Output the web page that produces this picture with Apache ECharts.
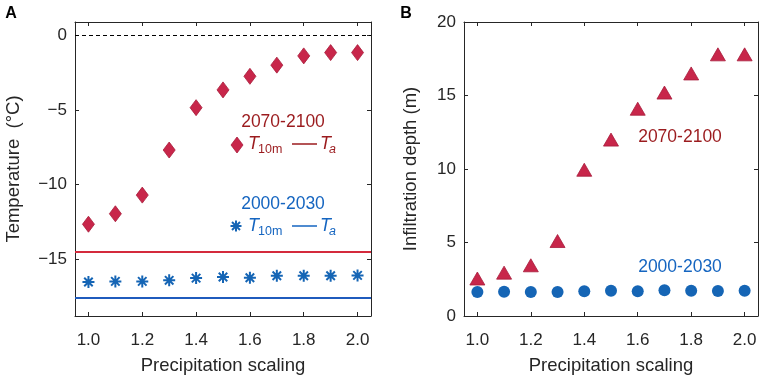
<!DOCTYPE html>
<html>
<head>
<meta charset="utf-8">
<script src="https://cdn.jsdelivr.net/npm/echarts@6/dist/echarts.min.js"></script>
<style>
  html, body { margin: 0; padding: 0; background: #fff; }
  #chart { width: 765px; height: 380px; }
</style>
</head>
<body>
<div id="chart"></div>
<script>
// precipitation scaling factors (x axis, both panels)
const scaling = [1.0, 1.1, 1.2, 1.3, 1.4, 1.5, 1.6, 1.7, 1.8, 1.9, 2.0];

// panel A: 10 m ground temperature (°C)
const t10m2070 = [-12.65, -11.95, -10.7, -7.68, -4.84, -3.65, -2.74, -1.99, -1.37, -1.15, -1.15];
const t10m2000 = [-16.52, -16.48, -16.48, -16.41, -16.26, -16.19, -16.24, -16.1, -16.1, -16.1, -16.08];
// panel A: mean air temperature Ta (°C)
const ta2070 = -14.5;
const ta2000 = -17.6;

// panel B: infiltration depth (m)
const depth2070 = [2.55, 2.95, 3.45, 5.1, 9.95, 12.0, 14.1, 15.2, 16.5, 17.8, 17.8];
const depth2000 = [1.64, 1.65, 1.64, 1.64, 1.68, 1.72, 1.68, 1.75, 1.72, 1.7, 1.72];

const RED = '#c8264a';
const RED_EDGE = '#a81c3b';
const RED_LINE = '#d42a3c';
const RED_TEXT = '#9b1b1e';
const BLUE = '#1565b5';
const BLUE_LINE = '#1f5bbd';
const BLUE_TEXT = '#1565c0';
const AXIS = '#262626';
const FONT = 'Liberation Sans, Arial, sans-serif';

const asterisk = 'path://M0,-10L0,10M-10,0L10,0M-7.07,-7.07L7.07,7.07M-7.07,7.07L7.07,-7.07';

function pts(ys) {
  return scaling.map((x, i) => [x, ys[i]]);
}

function fmtMinus(v) {
  return v < 0 ? '\u2212' + Math.abs(v) : String(v);
}

function xAxis(grid, pos) {
  const bottom = pos === 'bottom';
  return {
    type: 'value',
    gridIndex: grid,
    position: pos,
    min: 0.95,
    max: 2.05,
    splitNumber: 5,
    name: bottom ? 'Precipitation scaling' : '',
    nameLocation: 'middle',
    nameGap: 40,
    nameTextStyle: { color: AXIS, fontSize: 18.5, fontFamily: FONT },
    axisLine: { show: true, onZero: false, lineStyle: { color: AXIS, width: 1 } },
    axisTick: { show: true, inside: true, length: 4, lineStyle: { color: AXIS } },
    axisLabel: {
      show: bottom,
      margin: 16,
      color: AXIS,
      fontSize: 17,
      fontFamily: FONT,
      formatter: v => {
        const k = Math.round(v * 10);
        return (Math.abs(v * 10 - k) < 1e-6 && k % 2 === 0) ? (k / 10).toFixed(1) : '';
      }
    },
    splitLine: { show: false }
  };
}

function yAxis(grid, pos, cfg) {
  const left = pos === 'left';
  return Object.assign({
    type: 'value',
    gridIndex: grid,
    position: pos,
    nameLocation: 'middle',
    nameTextStyle: { color: AXIS, fontSize: 18.5, fontFamily: FONT },
    axisLine: { show: true, onZero: false, lineStyle: { color: AXIS, width: 1 } },
    axisTick: { show: true, inside: true, length: 4, lineStyle: { color: AXIS } },
    axisLabel: {
      show: left,
      margin: 8,
      color: AXIS,
      fontSize: 17,
      fontFamily: FONT,
      formatter: v => (Math.abs(v % 5) < 1e-6 ? fmtMinus(v) : '')
    },
    splitLine: { show: false }
  }, cfg, left ? {} : { name: '' });
}

function txt(x, y, text, color, size, extra) {
  return {
    type: 'text',
    x: x,
    y: y,
    silent: true,
    style: Object.assign({
      text: text,
      fill: color,
      fontSize: size,
      fontFamily: FONT,
      align: 'center',
      verticalAlign: 'middle'
    }, extra || {})
  };
}

// "T10m ── Ta" legend row
function keyRow(y, color) {
  const it = { fontStyle: 'italic', align: 'left' };
  return [
    txt(248, y, 'T', color, 18, it),
    txt(258, y + 6, '10m', color, 12.5, { align: 'left' }),
    { type: 'line', silent: true, shape: { x1: 292, y1: y, x2: 317, y2: y }, style: { stroke: color, lineWidth: 1.5 } },
    txt(320, y, 'T', color, 18, it),
    txt(329, y + 6, 'a', color, 12.5, it)
  ];
}

const chart = echarts.init(document.getElementById('chart'));

const option = {
  animation: false,
  backgroundColor: '#fff',
  grid: [
    { left: 75, top: 22, width: 296, height: 296 },
    { left: 464, top: 22, width: 294, height: 296 }
  ],
  xAxis: [
    xAxis(0, 'bottom'), xAxis(0, 'top'),
    xAxis(1, 'bottom'), xAxis(1, 'top')
  ],
  yAxis: [
    yAxis(0, 'left', { min: -18.8, max: 0.9, splitNumber: 4, name: 'Temperature  (\u00b0C)', nameGap: 52 }),
    yAxis(0, 'right', { min: -18.8, max: 0.9, splitNumber: 4 }),
    yAxis(1, 'left', { min: 0, max: 20, interval: 5, name: 'Infiltration depth (m)', nameGap: 44 }),
    yAxis(1, 'right', { min: 0, max: 20, interval: 5 })
  ],
  series: [
    {
      name: 'T10m 2070-2100',
      type: 'scatter',
      xAxisIndex: 0,
      yAxisIndex: 0,
      symbol: 'diamond',
      symbolSize: [12, 16],
      itemStyle: { color: RED, borderColor: RED_EDGE, borderWidth: 0.8, opacity: 1 },
      data: pts(t10m2070),
      markLine: {
        silent: true,
        symbol: 'none',
        label: { show: false },
        data: [
          { yAxis: 0, lineStyle: { color: '#000', width: 1, type: [4, 3] } },
          { yAxis: ta2070, lineStyle: { color: RED_LINE, width: 2, type: 'solid' } }
        ]
      }
    },
    {
      name: 'T10m 2000-2030',
      type: 'scatter',
      xAxisIndex: 0,
      yAxisIndex: 0,
      symbol: asterisk,
      symbolSize: 12,
      itemStyle: { color: BLUE, borderColor: BLUE, borderWidth: 2, opacity: 1 },
      data: pts(t10m2000),
      markLine: {
        silent: true,
        symbol: 'none',
        label: { show: false },
        data: [
          { yAxis: ta2000, lineStyle: { color: BLUE_LINE, width: 2, type: 'solid' } }
        ]
      }
    },
    {
      name: 'depth 2070-2100',
      type: 'scatter',
      xAxisIndex: 2,
      yAxisIndex: 2,
      symbol: 'triangle',
      symbolSize: [15, 13],
      itemStyle: { color: RED, borderColor: RED_EDGE, borderWidth: 0.8, opacity: 1 },
      data: pts(depth2070)
    },
    {
      name: 'depth 2000-2030',
      type: 'scatter',
      xAxisIndex: 2,
      yAxisIndex: 2,
      symbol: 'circle',
      symbolSize: 12,
      itemStyle: { color: BLUE, opacity: 1 },
      data: pts(depth2000)
    }
  ],
  graphic: [
    txt(11, 14, 'A', '#000', 16, { fontWeight: 'bold' }),
    txt(406, 14, 'B', '#000', 16, { fontWeight: 'bold' }),

    // panel A keys
    txt(283, 122, '2070-2100', RED_TEXT, 17.5),
    { type: 'polygon', silent: true, shape: { points: [[237, 137], [243, 145], [237, 153], [231, 145]] }, style: { fill: RED, stroke: RED_EDGE, lineWidth: 0.8 } },
    ...keyRow(144, RED_TEXT),
    txt(283, 204, '2000-2030', BLUE_TEXT, 17.5),
    { type: 'line', silent: true, shape: { x1: 236, y1: 220.5, x2: 236, y2: 231.5 }, style: { stroke: BLUE, lineWidth: 2 } },
    { type: 'line', silent: true, shape: { x1: 230.5, y1: 226, x2: 241.5, y2: 226 }, style: { stroke: BLUE, lineWidth: 2 } },
    { type: 'line', silent: true, shape: { x1: 232, y1: 222, x2: 240, y2: 230 }, style: { stroke: BLUE, lineWidth: 2 } },
    { type: 'line', silent: true, shape: { x1: 232, y1: 230, x2: 240, y2: 222 }, style: { stroke: BLUE, lineWidth: 2 } },
    ...keyRow(226, BLUE_TEXT),

    // panel B keys
    txt(680, 137, '2070-2100', RED_TEXT, 17.5),
    txt(680, 267, '2000-2030', BLUE_TEXT, 17.5)
  ]
};

chart.setOption(option);
</script>
</body>
</html>
